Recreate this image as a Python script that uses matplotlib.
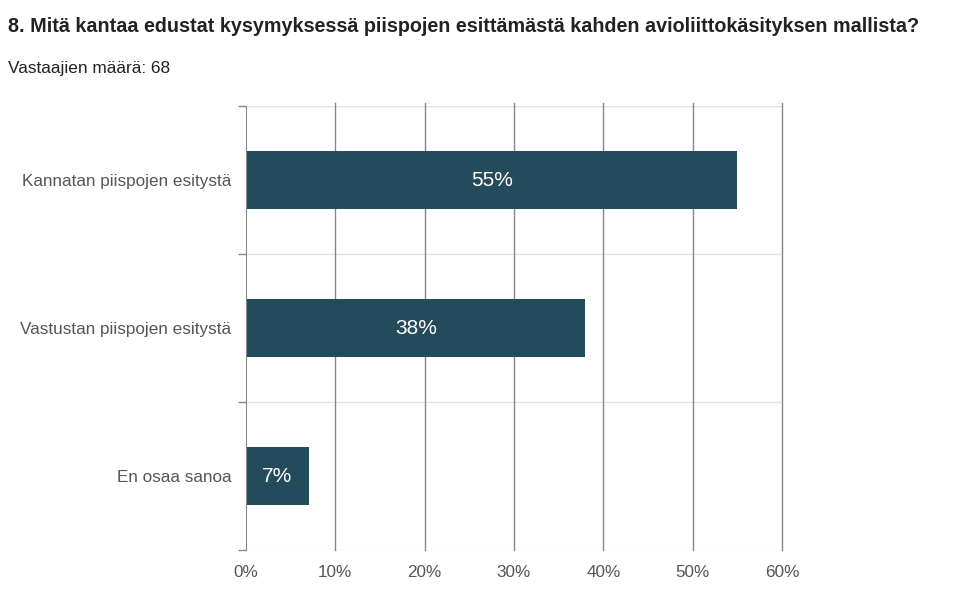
import matplotlib
matplotlib.use("Agg")
import matplotlib.pyplot as plt
import numpy as np

plt.rcParams['font.family'] = ['Liberation Sans', 'DejaVu Sans']

categories = ["Kannatan piispojen esitystä", "Vastustan piispojen esitystä", "En osaa sanoa"]
values = [55, 38, 7]
xticks = [0, 10, 20, 30, 40, 50, 60]
title = "8. Mitä kantaa edustat kysymyksessä piispojen esittämästä kahden avioliittokäsityksen mallista?"
subtitle = "Vastaajien määrä: 68"

bar_color = "#234b5b"
text_grey = "#555555"

fig = plt.figure(figsize=(9.67, 6.01), dpi=100)
ax = fig.add_axes([246/967, 1-550/601, (782-246)/967, (550-106)/601])

y = np.arange(len(categories))
bars = ax.barh(y, values, height=0.39, color=bar_color, zorder=3)
for b, v in zip(bars, values):
    ax.text(b.get_width()/2, b.get_y()+b.get_height()/2, f"{v}%",
            ha='center', va='center', color='white', fontsize=15, zorder=4)

ax.set_xlim(0, 60)
ax.set_ylim(len(categories)-0.5, -0.5)
ax.set_xticks(xticks)
ax.set_xticklabels([f"{t}%" for t in xticks], color=text_grey, fontsize=12.3)
ax.set_yticks(y)
ax.set_yticklabels(categories, color=text_grey, fontsize=12.3)
ax.set_yticks(np.arange(len(categories)+1)-0.5, minor=True)
ax.tick_params(axis='y', which='major', length=0, pad=10.5)
ax.tick_params(axis='y', which='minor', length=6, color='#888888', width=1)
ax.tick_params(axis='x', length=0, pad=11)

for xv in xticks[1:]:
    ax.axvline(xv, color='#888888', linewidth=1, zorder=1, clip_on=False,
               ymin=0, ymax=1.006)
for yb in np.arange(len(categories)+1)-0.5:
    ax.axhline(yb, color='#e2e2e2', linewidth=1, zorder=0)

for s in ['top', 'right', 'bottom']:
    ax.spines[s].set_visible(False)
ax.spines['left'].set_color('#888888')
ax.spines['left'].set_zorder(5)

fig.text(8/967, 1-27/601, title, fontsize=14.2, fontweight='bold', color='#222222', va='center')
fig.text(8/967, 1-68/601, subtitle, fontsize=12.4, color='#222222', va='center')

fig.savefig("out.png", dpi=100)
